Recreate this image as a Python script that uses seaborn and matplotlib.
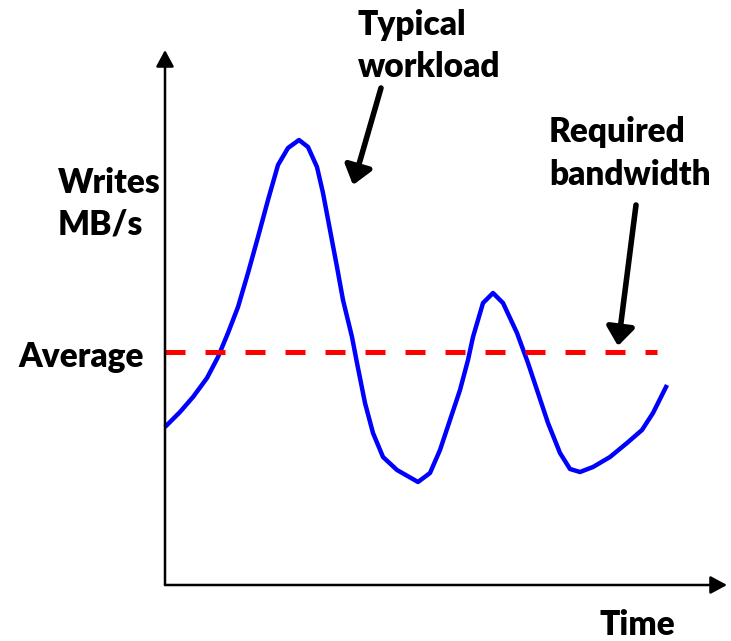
import matplotlib
matplotlib.use("Agg")
import matplotlib.pyplot as plt
import seaborn as sns
import pandas as pd

# Schematic workload curve (time units from the y-axis, MB/s units from the x-axis)
time = [0, 15, 28, 42, 53, 63, 73, 83, 93, 103, 113, 123, 134, 143, 152, 158, 165,
        172, 178, 187, 192, 200, 208, 218, 232, 253, 265, 275, 285, 295, 303, 308,
        318, 328, 338, 352, 363, 373, 383, 395, 405, 415, 428, 445, 462, 477, 488, 502]
writes = [158, 173, 188, 207, 228, 252, 278, 312, 348, 385, 420, 437, 445, 438, 418, 392, 355,
          318, 285, 248, 222, 182, 152, 128, 115, 103, 112, 135, 165, 195, 225, 248,
          282, 292, 282, 252, 222, 192, 162, 132, 116, 113, 118, 128, 142, 155, 172, 200]
average_value = 233
average_span = [0, 492]

sns.set_theme(style="white")
plt.rcParams['font.family'] = ['Lato', 'DejaVu Sans']

fig = plt.figure(figsize=(7.31, 6.41), dpi=100)
ax = fig.add_axes([0, 0, 1, 1])
ax.set_xlim(-165, 566)
ax.set_ylim(-56, 585)
ax.axis("off")

df = pd.DataFrame({"time": time, "writes": writes})
sns.lineplot(data=df, x="time", y="writes", sort=False, estimator=None,
             color="#0000ff", lw=3.2, ax=ax)
ax.lines[-1].set_solid_joinstyle("round")
ax.lines[-1].set_solid_capstyle("butt")

avg = pd.DataFrame({"time": average_span, "writes": [average_value] * 2})
sns.lineplot(data=avg, x="time", y="writes", color="#ff0000", lw=3.6, ax=ax)
ax.lines[-1].set_dashes([4, 4])

# axes arrows
axis_arrow = dict(arrowstyle="-|>,head_width=0.27,head_length=0.5", lw=1.8,
                  color="black", shrinkA=0, shrinkB=0, mutation_scale=20)
ax.annotate("", xy=(0, 535), xytext=(0, 0), arrowprops=axis_arrow)
ax.annotate("", xy=(562, 0), xytext=(0, 0), arrowprops=axis_arrow)

# pointer arrows
pointer = dict(arrowstyle="-|>,head_width=0.42,head_length=0.55", lw=4,
               color="black", shrinkA=0, shrinkB=0, mutation_scale=20)
ax.annotate("", xy=(188, 400), xytext=(216, 497), arrowprops=pointer)
ax.annotate("", xy=(453, 239), xytext=(471, 380), arrowprops=pointer)

tk = dict(fontsize=24, fontweight="heavy", color="black", va="center")
ax.text(193, 560, "Typical", ha="left", **tk)
ax.text(193, 518, "workload", ha="left", **tk)
ax.text(384, 453, "Required", ha="left", **tk)
ax.text(384, 410, "bandwidth", ha="left", **tk)
ax.text(-107, 402, "Writes", ha="left", **tk)
ax.text(-107, 360, "MB/s", ha="left", **tk)
ax.text(-147, 228, "Average", ha="left", **tk)
ax.text(435, -50, "Time", ha="left", fontsize=24, fontweight="heavy",
        color="black", va="baseline")

fig.savefig("out.png", dpi=100)
